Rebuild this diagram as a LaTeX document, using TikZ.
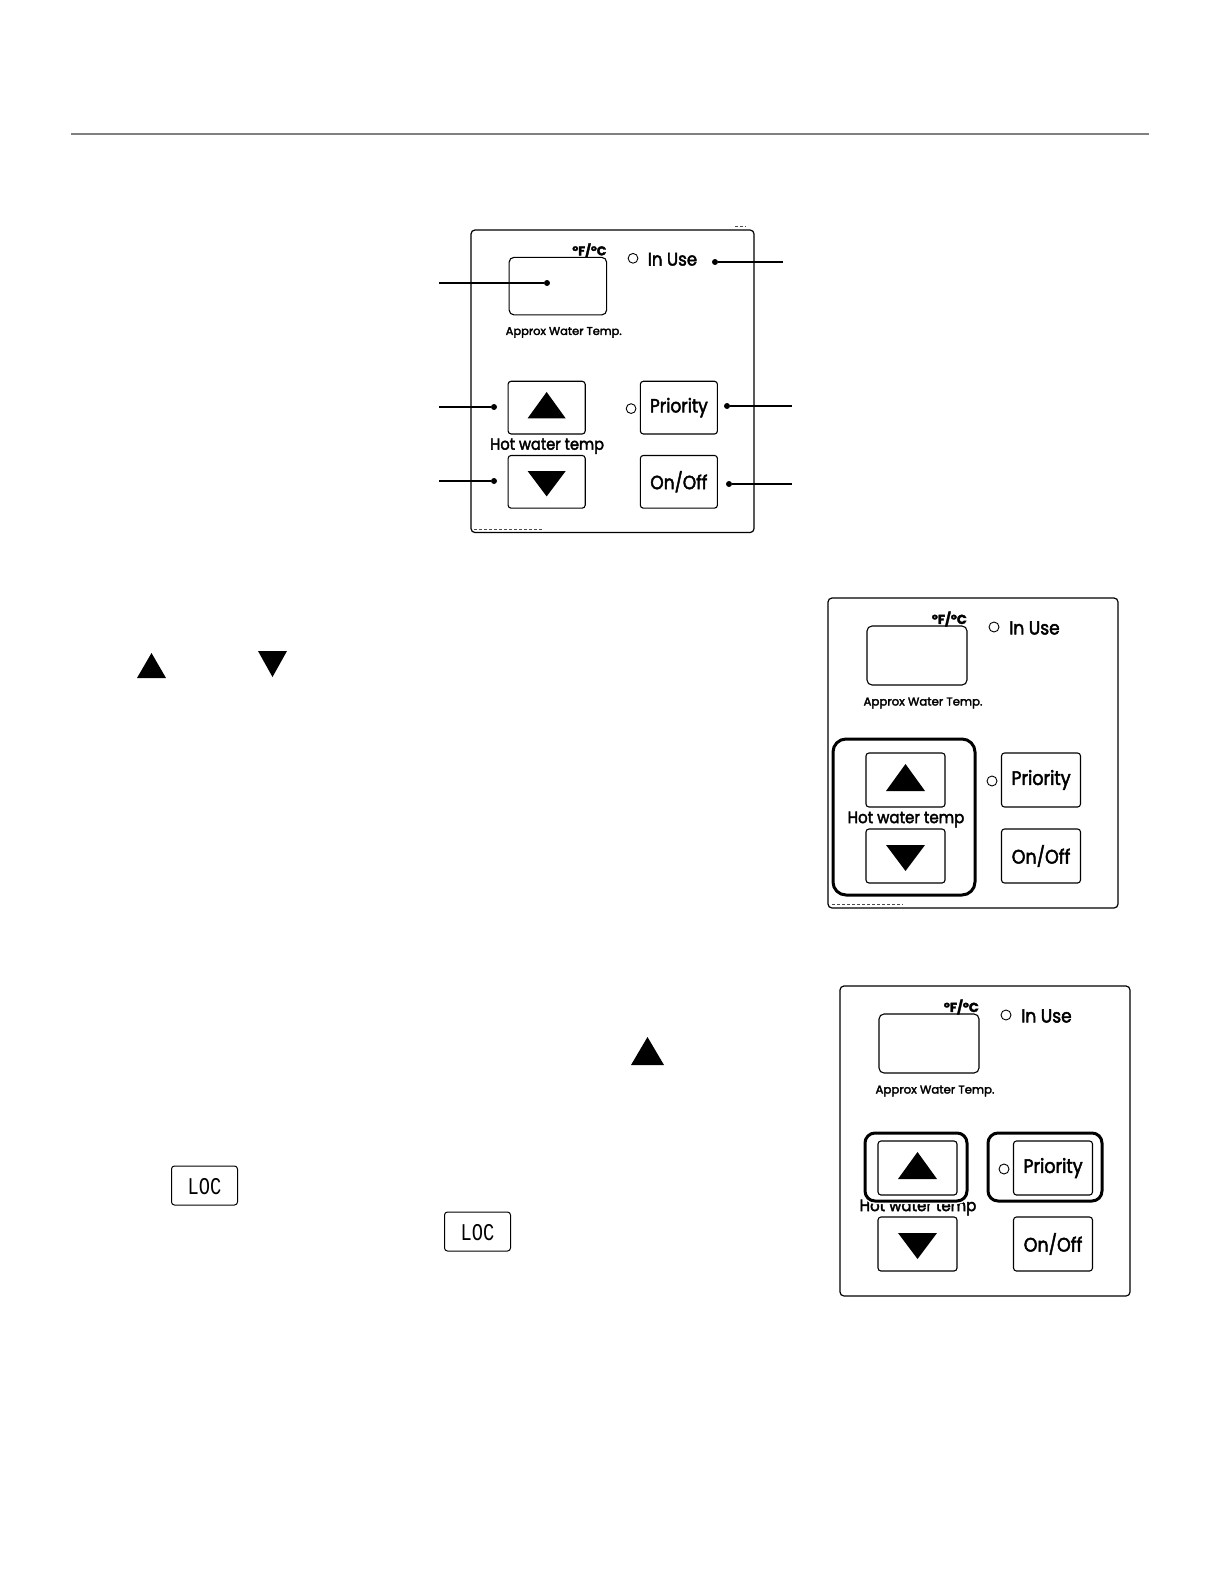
\documentclass[tikz,border=0pt]{standalone}
\usepackage{fontspec}
\newfontfamily\pfont{Poppins}[FakeBold=2.6]
\newfontfamily\locfont{Liberation Mono}
\tikzset{
 panelbox/.style={draw, line width=1.2pt, rounded corners=4pt, inner sep=0pt, minimum width=290pt, minimum height=310pt},
 btn/.style={draw, line width=1.1pt, rounded corners=3pt, inner sep=0pt, minimum width=79pt, minimum height=54pt},
 dispbox/.style={draw, line width=1.1pt, rounded corners=5pt, inner sep=0pt, minimum width=100pt, minimum height=59pt},
 led/.style={draw, circle, line width=0.9pt, inner sep=0pt, minimum size=10pt},
 dot/.style={fill, circle, inner sep=0pt, minimum size=6pt},
 leader/.style={line width=1.4pt},
 hilite/.style={draw, line width=3pt, rounded corners=10pt, inner sep=0pt, preaction={draw=white, line width=6pt}},
 lbl/.style={inner sep=0pt},
 btntext/.style={font={\pfont\fontsize{17.5}{17.5}\selectfont}, yscale=1.12},
 locbox/.style={draw, line width=1pt, rounded corners=3pt, inner sep=0pt, minimum width=66pt, minimum height=39pt},
 artifact/.style={draw=black!70, line width=0.8pt, dash pattern=on 3pt off 2pt}
}
\newcommand\ctrlpanel[4]{%
\begin{scope}[shift={(#2,#3)}, scale=#4, transform shape]
 \node[panelbox] (#1box) at (145,155) {};
 \node[dispbox] (#1disp) at (89,57.5) {};
 \node[lbl, anchor=east, font={\pfont\bfseries\fontsize{13}{13}\selectfont}] (#1unit) at (139,21) {°F/°C};
 \node[led] (#1led) at (166,29) {};
 \node[lbl, anchor=west, font={\pfont\fontsize{17}{17}\selectfont}, yscale=1.1] (#1inuse) at (181,30) {In Use};
 \node[lbl, font={\pfont\fontsize{11.5}{11.5}\selectfont}, xscale=1.02] (#1approx) at (95,105) {Approx Water Temp.};
 \node[btn] (#1up) at (77.5,182) {};
 \fill ([shift={(-19.5,11)}]#1up.center) -- ([shift={(19.5,11)}]#1up.center) -- ([shift={(0,-16)}]#1up.center) -- cycle;
 \node[lbl, font={\pfont\fontsize{15}{15}\selectfont}, yscale=1.1] (#1hwt) at (78,221.5) {Hot water temp};
 \node[btn] (#1down) at (77.5,258) {};
 \fill ([shift={(-19.5,-11)}]#1down.center) -- ([shift={(19.5,-11)}]#1down.center) -- ([shift={(0,15)}]#1down.center) -- cycle;
 \node[led] (#1pled) at (164,183) {};
 \node[btn] (#1prio) at (213,182) {};
 \node[lbl, btntext] (#1priot) at (#1prio.center) {Priority};
 \node[btn] (#1onoff) at (213,258) {};
 \node[lbl, btntext] (#1onofft) at (#1onoff.center) {On/Off};
\end{scope}}
\begin{document}
\begin{tikzpicture}[x=1pt, y=-1pt]
\fill[white] (0,0) rectangle (1224,1584);
\useasboundingbox (0,0) rectangle (1224,1584);
% top rule
\draw[black!50, line width=2.8pt] (71,134) -- (1149,134);

% ---------- panel 1 with leaders ----------
\ctrlpanel{a}{471}{230}{0.976}
\draw[artifact] (735,226) -- (746,226);
\draw[artifact] (474,529) -- (542,529);
\node[dot] (ad1) at (547,283) {};
\coordinate (ae1) at (439,283);
\draw[leader] (ae1) -- (ad1);
\node[dot] (ad2) at (715,262) {};
\coordinate (ae2) at (783,262);
\draw[leader] (ad2) -- (ae2);
\node[dot] (ad3) at (494,407) {};
\coordinate (ae3) at (439,407);
\draw[leader] (ae3) -- (ad3);
\node[dot] (ad4) at (494,481) {};
\coordinate (ae4) at (439,481);
\draw[leader] (ae4) -- (ad4);
\node[dot] (ad5) at (727,406) {};
\coordinate (ae5) at (792,406);
\draw[leader] (ad5) -- (ae5);
\node[dot] (ad6) at (729,484) {};
\coordinate (ae6) at (792,484);
\draw[leader] (ad6) -- (ae6);

% ---------- panel 2 ----------
\ctrlpanel{b}{828}{598}{1}
\draw[artifact] (832,904) -- (903,904);
\node[hilite, minimum width=142pt, minimum height=156pt, rounded corners=13pt] (bhl) at (904,817) {};

% ---------- panel 3 ----------
\ctrlpanel{c}{840}{986}{1}
\node[hilite, minimum width=102pt, minimum height=68pt] (chl1) at (916,1167) {};
\node[hilite, minimum width=114pt, minimum height=68pt] (chl2) at (1045,1167) {};

% ---------- loose symbols ----------
\fill (137,678) -- (166,678) -- (151.5,653) -- cycle;
\fill (258,651) -- (287,651) -- (272.5,677) -- cycle;
\fill (631,1065) -- (664,1065) -- (647.5,1037) -- cycle;

\node[locbox] (loc1) at (204.5,1185.5) {};
\node[lbl, font={\locfont\fontsize{24}{24}\selectfont}, xscale=0.78] (loc1t) at (204.5,1187) {LOC};
\node[locbox] (loc2) at (477.5,1231.5) {};
\node[lbl, font={\locfont\fontsize{24}{24}\selectfont}, xscale=0.78] (loc2t) at (477.5,1233) {LOC};
\end{tikzpicture}
\end{document}
